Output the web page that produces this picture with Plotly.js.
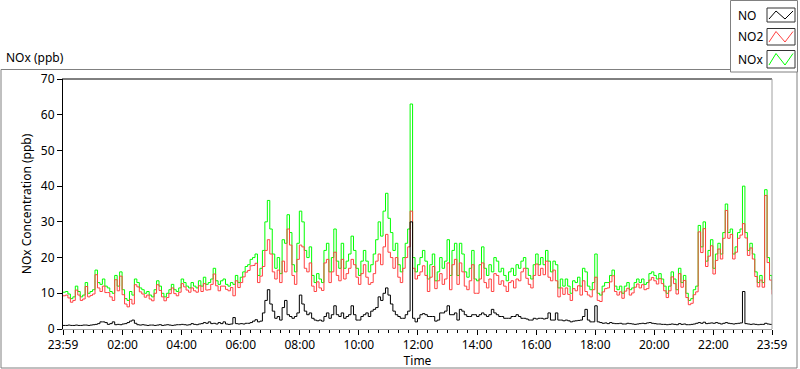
<!DOCTYPE html>
<html>
<head>
<meta charset="utf-8">
<script src="https://cdn.plot.ly/plotly-3.0.1.min.js"></script>
<style>html,body{margin:0;padding:0;background:#fff;}#chart{width:800px;height:369px;}</style>
</head>
<body>
<div id="chart"></div>
<script>
// 5-minute readings from 23:59 to 23:59 (289 points)
var startTime = '2024-01-01 23:59';
var stepMinutes = 5;

var noxValues = [
10.3,10.5,9.8,8.5,9,12,10.5,9,9.5,13,10,10.5,
11,16.5,13,12.5,14,12,11.5,10.5,10,15,12,16,
11,8.5,8,10.5,9.5,14,13,11.5,11,10,10.5,9.5,
9,11,13.5,12,10,9,10,11,12.5,11,10.5,11.5,
14,13,12,11.5,13,12,11.5,13.5,12,14.5,12.5,13,
14,17,13.5,12.5,13.5,14,12.5,12,13,12.5,15,13,
14.5,16,17.5,18,19.5,20,21,15,17,22,30,36,
28,21,17,20,15.5,25,24,32,27,18,16,24,
33,30,22,20,23,15,13,15.5,14,13,22,24,
16,20,28,19,17,24,17,19,21,26,22,17,
15,19,22,19,16,18,21,25,30,26,33,38,
31,27,22,24,18,16,20,24,28,63,20,16,
18,20,22,19,14,18,21,13.5,16,20,17,19,
25,15,22,24,15,24,21,16,14.5,17,22,14,
13.5,18,23,17,15,18,16,20,19,16,17,15,
13.5,16,17,15,18,17,19,20,17,15,14,18,
21,18,20,18,22,19,16,19,18,11.5,14,12,
14,12,10,13.5,13,14.5,12,17,16,12,11,13,
21,10,9.5,12,13,13,15,16.5,12,11,12,10,
12,13,11,11.5,13,14,13,14,12.5,13,15.5,16,
15,14,15.5,14,12,10,12,16,14,11,17,13,
15,10,8,8.5,11,12,29,23,30,19,22,25,
17,21,24,21,27,35,27,28,21,23,27,28,
40,27,22,24,21,16,13,15,13,39,20,15,
11
];

var no2Values = [
9.3,9.5,8.7,7.5,8.0,10.9,9.5,8.0,8.4,11.9,9.0,9.4,
9.8,15.2,11.5,10.5,12.0,10.2,10.2,9.0,8.0,13.8,10.7,14.8,
9.6,7.0,6.2,8.3,7.0,12.4,11.8,10.4,9.8,8.9,9.5,8.4,
7.9,10.0,12.4,10.8,9.0,7.9,8.8,9.9,11.5,9.9,9.3,10.3,
12.7,11.8,10.9,10.3,11.5,10.7,10.3,12.1,10.5,12.7,10.9,11.0,
12.5,15.4,12.1,10.7,12.0,12.0,11.1,10.7,11.6,9.3,13.5,11.6,
13.0,14.6,15.9,16.4,17.7,17.8,18.4,13.0,14.8,17.5,22,25,
21,16,14,16.5,13,19,16,28,23.5,15,12.5,19.5,
23.5,23,17,16,18.5,12,10.5,13.2,11.5,10.8,18.5,19.5,
13,16,21.5,15,13.5,19.5,14,15.5,17,19.5,18,14.5,
12.5,15.5,18,14.5,12.5,13,15.5,19,21,18,23,26.5,
21.5,20,17,20,14.5,13,17,20,23,33,17,14,
15,16,17.7,15,10.5,14.5,17.5,11.3,13.5,15.5,12.5,14,
18.5,11,18,19.5,12.5,18.5,16,12,11,13.5,18,10,
10,14,18.5,13,11.5,14,10.5,15.5,15,12.5,13.5,12,
10.5,13,13.5,11.5,14,13.5,16,17,14.2,12.5,11.5,15,
18.2,15,17,15.2,19,14.5,13.5,16.5,13.5,9,11.5,9.7,
11.5,9.7,8,11.3,10.7,12.1,9.5,13.5,10.5,9.5,9,11,
14.5,8,7.7,10.4,11.3,11.5,13.2,14.9,10.5,9.5,10.4,8.6,
10.6,11.4,9.5,10.1,11.7,12.6,11.5,12.4,11,11.3,13.7,14.4,
13.5,12.6,14.1,12.7,10.7,8.8,10.7,14.6,12.7,9.8,15.5,11.7,
13.6,8.8,6.8,7.2,9.6,10.4,27.2,21.4,28.1,17.5,20.4,23.3,
15.4,19.2,22.4,19.6,25.4,33.2,25.4,26.5,19.6,21.5,25.4,26.3,
29.5,25.5,20.6,22.7,19.6,14.7,11.8,13.7,11.7,37.4,18.6,13.7,
9.7
];

var noValues = [
1.0,1.0,1.1,1.0,1.0,1.1,1.0,1.0,1.1,1.1,1.0,1.1,
1.2,1.3,1.5,2.0,2.0,1.8,1.3,1.5,2.0,1.2,1.3,1.2,
1.4,1.5,1.8,2.2,2.5,1.6,1.2,1.1,1.2,1.1,1.0,1.1,
1.1,1.0,1.1,1.2,1.0,1.1,1.2,1.1,1.0,1.1,1.2,1.2,
1.3,1.2,1.1,1.2,1.5,1.3,1.2,1.4,1.5,1.8,1.6,2.0,
1.5,1.6,1.4,1.8,1.5,2.0,1.4,1.3,1.4,3.2,1.5,1.4,
1.5,1.4,1.6,1.6,1.8,2.2,2.6,2.0,2.2,4.5,8,11,
7,5,3,3.5,2.5,6,8,4,3.5,3,3.5,4.5,
9.5,7,5,4,4.5,3,2.5,2.3,2.5,2.2,3.5,4.5,
3,4,6.5,4,3.5,4.5,3,3.5,4,6.5,4,2.5,
2.5,3.5,4,4.5,3.5,5,5.5,6,9,8,10,11.5,
9.5,7,5,4,3.5,3,3,4,5,30,3,2,
3,4,4.3,4,3.5,3.5,3.5,2.2,2.5,4.5,4.5,5,
6.5,4,4,4.5,2.5,5.5,5,4,3.5,3.5,4,4,
3.5,4,4.5,4,3.5,4,5.5,4.5,4,3.5,3.5,3,
3,3,3.5,3.5,4,3.5,3,3,2.8,2.5,2.5,3,
2.8,3,3,2.8,3,4.5,2.5,2.5,4.5,2.5,2.5,2.3,
2.5,2.3,2.0,2.2,2.3,2.4,2.5,3.5,5.5,2.5,2,2,
6.5,2,1.8,1.6,1.7,1.5,1.8,1.6,1.5,1.5,1.6,1.4,
1.4,1.6,1.5,1.4,1.3,1.4,1.5,1.6,1.5,1.7,1.8,1.6,
1.5,1.4,1.4,1.3,1.3,1.2,1.3,1.4,1.3,1.2,1.5,1.3,
1.4,1.2,1.2,1.3,1.4,1.6,1.8,1.6,1.9,1.5,1.6,1.7,
1.6,1.8,1.6,1.4,1.6,1.8,1.6,1.5,1.4,1.5,1.6,1.7,
10.5,1.5,1.4,1.3,1.4,1.3,1.2,1.3,1.3,1.6,1.4,1.3,
1.3
];

var xTickVals = ['2024-01-01 23:59','2024-01-02 02:00','2024-01-02 04:00','2024-01-02 06:00','2024-01-02 08:00','2024-01-02 10:00','2024-01-02 12:00','2024-01-02 14:00','2024-01-02 16:00','2024-01-02 18:00','2024-01-02 20:00','2024-01-02 22:00','2024-01-02 23:59'];
var xTickText = ['23:59','02:00','04:00','06:00','08:00','10:00','12:00','14:00','16:00','18:00','20:00','22:00','23:59'];
var yTickVals = [0,10,20,30,40,50,60,70];

// time stamps
function pad(n){return (n<10?'0':'')+n;}
var t0 = new Date(Date.UTC(2024,0,1,23,59));
var times = [];
for (var i = 0; i < noxValues.length; i++) {
  var d = new Date(t0.getTime() + i*stepMinutes*60000);
  times.push(d.getUTCFullYear()+'-'+pad(d.getUTCMonth()+1)+'-'+pad(d.getUTCDate())+' '+pad(d.getUTCHours())+':'+pad(d.getUTCMinutes()));
}

// pixel -> paper helpers (plot area 63..772 x, 79..329 y)
var L = 63, R = 772, T = 79, B = 329;
function X(p){return (p-L)/(R-L);}
function Y(p){return (B-p)/(B-T);}

var FONT = 'Noto Sans, DejaVu Sans, sans-serif';

var traces = [
  {x: times, y: noxValues, type:'scatter', mode:'lines', line:{color:'#00ff00', width:1, shape:'hv'}, name:'NOx'},
  {x: times, y: no2Values, type:'scatter', mode:'lines', line:{color:'#ff4040', width:1, shape:'hv'}, name:'NO2'},
  {x: times, y: noValues, type:'scatter', mode:'lines', line:{color:'#000000', width:1, shape:'hv'}, name:'NO'}
];

var shapes = [];
// outer frame
shapes.push({type:'rect', xref:'paper', yref:'paper', x0:X(1), x1:X(797), y0:Y(69.5), y1:Y(368), line:{color:'#808080', width:1}, fillcolor:'rgba(0,0,0,0)', layer:'below'});
// plot frame top & right
shapes.push({type:'line', xref:'paper', yref:'paper', x0:X(62), x1:X(772), y0:1, y1:1, line:{color:'#000', width:1}});
shapes.push({type:'line', xref:'paper', yref:'paper', x0:1, x1:1, y0:0, y1:1, line:{color:'#a0a0a0', width:1}});
// legend box
shapes.push({type:'rect', xref:'paper', yref:'paper', x0:X(730.5), x1:X(797.5), y0:Y(0.5), y1:Y(72), line:{color:'#808080', width:1}, fillcolor:'#ffffff'});

var legendItems = [
  {label:'NO', color:'#000000', top:8, bottom:22},
  {label:'NO2', color:'#ff4040', top:28.5, bottom:45},
  {label:'NOx', color:'#00ff00', top:50.5, bottom:68}
];
var annotations = [];
legendItems.forEach(function(it){
  shapes.push({type:'rect', xref:'paper', yref:'paper', x0:X(767), x1:X(795), y0:Y(it.top), y1:Y(it.bottom), line:{color:'#333333', width:1}, fillcolor:'#ffffff'});
  var h = it.bottom - it.top;
  var yl = it.bottom - 3, yh = it.top + 3;
  var path = 'M '+X(769)+','+Y(yl)+' L '+X(776)+','+Y(yh)+' L '+X(785)+','+Y(yl)+' L '+X(793)+','+Y(yh);
  shapes.push({type:'path', xref:'paper', yref:'paper', path:path, line:{color:it.color, width:1}});
  annotations.push({text:it.label, xref:'paper', yref:'paper', x:X(736), y:Y((it.top+it.bottom)/2), xanchor:'left', yanchor:'middle', showarrow:false, font:{family:FONT, size:12, color:'#000'}});
});
annotations.push({text:'NOx (ppb)', xref:'paper', yref:'paper', x:X(4), y:Y(58), xanchor:'left', yanchor:'middle', showarrow:false, font:{family:FONT, size:12, color:'#000'}});

var layout = {
  width: 800, height: 369,
  margin: {l:L, r:800-R, t:T, b:369-B},
  paper_bgcolor:'#ffffff', plot_bgcolor:'#ffffff',
  showlegend:false,
  font:{family:FONT, size:12, color:'#000'},
  xaxis:{
    type:'date',
    range:['2024-01-01 23:59','2024-01-02 23:59'],
    tickmode:'array', tickvals:xTickVals, ticktext:xTickText,
    ticks:'outside', ticklen:5, tickwidth:1, tickcolor:'#000',
    minor:{tickmode:'linear', tick0:'2024-01-02 00:00', dtick:1200000, ticks:'outside', ticklen:3, tickcolor:'#000', showgrid:false},
    showgrid:false, zeroline:false,
    showline:true, linecolor:'#a0a0a0', linewidth:1,
    tickfont:{family:FONT, size:12, color:'#000'},
    title:{text:'Time', font:{family:FONT, size:12, color:'#000'}, standoff:2}
  },
  yaxis:{
    range:[0,70],
    tickmode:'array', tickvals:yTickVals,
    ticks:'outside', ticklen:5, tickwidth:1, tickcolor:'#000',
    showgrid:false, zeroline:false,
    showline:true, linecolor:'#000', linewidth:1,
    tickfont:{family:FONT, size:12, color:'#000'},
    title:{text:'NOx Concentration (ppb)', font:{family:FONT, size:12, color:'#000'}, standoff:6}
  },
  shapes: shapes,
  annotations: annotations
};

Plotly.newPlot('chart', traces, layout, {displayModeBar:false, staticPlot:true});
</script>
</body>
</html>
